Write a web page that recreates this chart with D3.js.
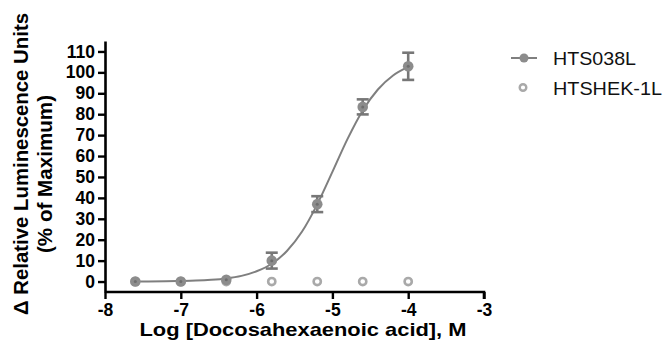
<!DOCTYPE html>
<html>
<head>
<meta charset="utf-8">
<script src="https://cdn.jsdelivr.net/npm/d3@7"></script>
<style>
  body { margin: 0; background: #fff; }
  text { font-family: "Liberation Sans", Arial, sans-serif; }
</style>
</head>
<body>
<div id="visualization"></div>
<script>
// log concentrations
const logConc = [-7.6, -7.0, -6.4, -5.8, -5.2, -4.6, -4.0];
// HTS038L mean and SEM
const hts038Mean = [0, 0, 0.8, 10, 37, 83.5, 102.9];
const hts038Err = [0, 0, 0.5, 3.8, 3.8, 3.6, 6.5];
// HTSHEK-1L mean
const hek1Mean = [0, 0, 0, 0, 0, 0, 0];
// fitted curve
const curveX = [-7.6, -7.2, -7.0, -6.8, -6.6, -6.4, -6.2, -6.0, -5.8, -5.6, -5.4, -5.2, -5.0, -4.8, -4.6, -4.4, -4.2, -4.0];
const curveY = [0.04, 0.12, 0.25, 0.45, 0.84, 1.5, 2.7, 4.9, 8.5, 14.6, 23.9, 36.9, 52.4, 68.2, 81.8, 91.8, 98.5, 102.6];
const xTicks = [-8, -7, -6, -5, -4, -3];
const yTicks = [0, 10, 20, 30, 40, 50, 60, 70, 80, 90, 100, 110];
const seriesNames = ['HTS038L', 'HTSHEK-1L'];
const legendWidths = [83, 109];

const width = 665, height = 350;
const svg = d3.select('#visualization')
    .append('svg')
    .attr('width', width)
    .attr('height', height);

const x = d3.scaleLinear().domain([-8, -3]).range([105, 484]);
const y = d3.scaleLinear().domain([-5, 115]).range([292, 41]);

const darkGrey = '#7f7f7f';
const lightGrey = '#a9a9a9';
const fmt = d => String(d); // plain hyphen minus

// axes
const xAxis = svg.append('g')
    .attr('transform', `translate(0,${y.range()[0]})`)
    .call(d3.axisBottom(x).tickValues(xTicks).tickFormat(fmt).tickSize(7).tickSizeOuter(0).tickPadding(5));
const yAxis = svg.append('g')
    .attr('transform', `translate(${x.range()[0]},0)`)
    .call(d3.axisLeft(y).tickValues(yTicks).tickFormat(fmt).tickSize(7).tickSizeOuter(0).tickPadding(3));

[xAxis, yAxis].forEach(g => {
    g.select('.domain').attr('stroke', '#000').attr('stroke-width', 2.6);
    g.selectAll('.tick line').attr('stroke', '#000').attr('stroke-width', 2.4);
    g.selectAll('.tick text')
        .attr('fill', '#000')
        .style('font-size', '17.5px')
        .style('font-weight', 'bold')
        .style('font-family', '"Liberation Sans", Arial, sans-serif');
});
xAxis.select('.domain').attr('d', `M${x.range()[0]},0H${x.range()[1]}V7`);

// axis titles
svg.append('text')
    .attr('x', 303)
    .attr('y', 336)
    .attr('text-anchor', 'middle')
    .attr('textLength', 327)
    .attr('lengthAdjust', 'spacingAndGlyphs')
    .style('font-size', '19px')
    .style('font-weight', 'bold')
    .text('Log [Docosahexaenoic acid], M');

const yTitle = svg.append('text')
    .attr('transform', 'translate(28,164) rotate(-90)')
    .attr('text-anchor', 'middle')
    .style('font-size', '19.5px')
    .style('font-weight', 'bold');
yTitle.append('tspan').attr('x', 0).attr('y', 0)
    .attr('textLength', 302).attr('lengthAdjust', 'spacingAndGlyphs')
    .text('\u0394 Relative Luminescence Units');
yTitle.append('tspan').attr('x', -10).attr('y', 24)
    .attr('textLength', 158).attr('lengthAdjust', 'spacingAndGlyphs')
    .text('(% of Maximum)');

// fitted curve
const curvePts = curveX.map((v, i) => [v, curveY[i]]);
svg.append('path')
    .datum(curvePts)
    .attr('fill', 'none')
    .attr('stroke', darkGrey)
    .attr('stroke-width', 2)
    .attr('d', d3.line().x(d => x(d[0])).y(d => y(d[1])).curve(d3.curveMonotoneX));

// HTSHEK-1L open circles
svg.selectAll('circle.hek')
    .data(logConc.map((v, i) => [v, hek1Mean[i]]))
    .enter()
    .append('circle')
    .attr('class', 'hek')
    .attr('cx', d => x(d[0]))
    .attr('cy', d => y(d[1]))
    .attr('r', 3.6)
    .attr('fill', '#fff')
    .attr('stroke', lightGrey)
    .attr('stroke-width', 2.6);

// HTS038L error bars
const hts = logConc.map((v, i) => ({ x: v, m: hts038Mean[i], e: hts038Err[i] }));
const bars = svg.selectAll('g.err')
    .data(hts.filter(d => d.e > 1))
    .enter()
    .append('g')
    .attr('class', 'err')
    .attr('stroke', '#777')
    .attr('stroke-width', 2.6);
bars.append('line')
    .attr('x1', d => x(d.x)).attr('x2', d => x(d.x))
    .attr('y1', d => y(d.m + d.e)).attr('y2', d => y(d.m - d.e));
bars.append('line')
    .attr('x1', d => x(d.x) - 6).attr('x2', d => x(d.x) + 6)
    .attr('y1', d => y(d.m + d.e)).attr('y2', d => y(d.m + d.e));
bars.append('line')
    .attr('x1', d => x(d.x) - 6).attr('x2', d => x(d.x) + 6)
    .attr('y1', d => y(d.m - d.e)).attr('y2', d => y(d.m - d.e));

// HTS038L filled circles
svg.selectAll('circle.hts')
    .data(hts)
    .enter()
    .append('circle')
    .attr('class', 'hts')
    .attr('cx', d => x(d.x))
    .attr('cy', d => y(d.m))
    .attr('r', 5.3)
    .attr('fill', '#8c8c8c');
svg.selectAll('circle.htsc')
    .data(hts)
    .enter()
    .append('circle')
    .attr('cx', d => x(d.x))
    .attr('cy', d => y(d.m))
    .attr('r', 1.5)
    .attr('fill', '#6e6e6e');

// legend
const legend = svg.append('g');
legend.append('line')
    .attr('x1', 511).attr('x2', 537).attr('y1', 58).attr('y2', 58)
    .attr('stroke', darkGrey).attr('stroke-width', 2);
legend.append('circle')
    .attr('cx', 524).attr('cy', 58).attr('r', 4.5).attr('fill', '#8c8c8c');
legend.append('circle')
    .attr('cx', 523).attr('cy', 87.5).attr('r', 3.3)
    .attr('fill', '#fff').attr('stroke', lightGrey).attr('stroke-width', 2.4);
legend.selectAll('text.leg')
    .data(seriesNames)
    .enter()
    .append('text')
    .attr('x', 553)
    .attr('y', (d, i) => 65 + i * 29.5)
    .attr('textLength', (d, i) => legendWidths[i])
    .attr('lengthAdjust', 'spacingAndGlyphs')
    .style('font-size', '19px')
    .attr('fill', '#111')
    .text(d => d);
</script>
</body>
</html>
